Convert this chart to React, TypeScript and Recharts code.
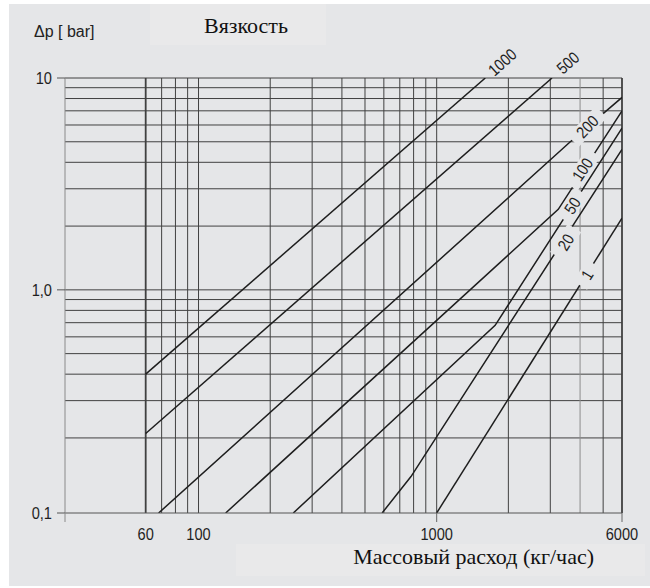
import React from 'react'
import { LineChart, Line, XAxis, YAxis, ReferenceLine, ReferenceDot } from 'recharts'

// viscosity curves, points: [flow kg/h, Δp bar]
const VISCOSITIES = ['1000', '500', '200', '100', '50', '20', '1']

const CURVE_1000 = [[60, 0.4], [1600, 10]]
const CURVE_500 = [[60, 0.21], [3050, 10]]
const CURVE_200 = [[68, 0.1], [3640, 5.0], [6000, 8.1]]
const CURVE_100 = [[130, 0.1], [3240, 2.4], [6000, 7.0]]
const CURVE_50 = [[250, 0.1], [1760, 0.68], [6000, 5.8]]
const CURVE_20 = [[590, 0.1], [780, 0.14], [6000, 4.6]]
const CURVE_1 = [[1000, 0.1], [6000, 2.18]]

const CURVES: Record<string, number[][]> = {
  '1000': CURVE_1000,
  '500': CURVE_500,
  '200': CURVE_200,
  '100': CURVE_100,
  '50': CURVE_50,
  '20': CURVE_20,
  '1': CURVE_1,
}

// where each viscosity tag sits on (or past the end of) its curve
const TAG_AT: Record<string, number[]> = {
  '1000': [1885, 11.9],
  '500': [3550, 11.8],
  '200': [4290, 5.9],
  '100': [4090, 3.7],
  '50': [3710, 2.5],
  '20': [3480, 1.68],
  '1': [4280, 1.18],
}

const X_MIN = 27.5
const X_MAX = 6000
const X_TICKS = [X_MIN, 60, 100, 1000, 6000]
const X_TICK_LABELS = ['', '60', '100', '1000', '6000']
const X_MARKED = [X_MIN, 1000, 6000]

const Y_TICKS = [0.1, 1, 10]
const Y_TICK_LABELS = ['0,1', '1,0', '10']

const GRID_Q = [60, 70, 80, 90, 100, 200, 300, 400, 500, 600, 700, 800, 900, 1000, 2000, 3000, 4000, 5000, 6000]
const GRID_DP = [0.2, 0.3, 0.4, 0.5, 0.6, 0.7, 0.8, 0.9, 1, 2, 3, 4, 5, 6, 7, 8, 9, 10]

// the printed chart stretches its lowest band (0.1–0.2) a bit compared to the other decades
const LOG_02 = Math.log10(0.2)
const BOTTOM_STRETCH = 1.177
const ty = (v: number) => {
  const l = Math.log10(v)
  return l >= LOG_02 ? l : LOG_02 - (LOG_02 - l) * BOTTOM_STRETCH
}

const BG = '#e5e6e8'
const BOX = '#e9e9ea'
const INK = '#1e1e1e'
const GRID = '#404040'
const SANS = '"Liberation Sans", Arial, sans-serif'
const SERIF = '"Liberation Serif", "Times New Roman", serif'
const SQUEEZE = 0.86 // the print uses a condensed grotesque

const TAG_ANGLE: Record<string, number> = {
  '1000': -42,
  '500': -42,
  '200': -46,
  '100': -56,
  '50': -57,
  '20': -58,
  '1': -58,
}

function Narrow({ x, y, anchor = 'middle', size, dy, children }: any) {
  return (
    <text
      transform={`translate(${x},${y}) scale(${SQUEEZE},1)`}
      x={0}
      y={0}
      dy={dy}
      textAnchor={anchor}
      fontSize={size}
      fontFamily={SANS}
      fill="#1f1f1f"
    >
      {children}
    </text>
  )
}

function CurveTag(props: any) {
  const { cx, cy, name } = props
  const cut = TAG_AT[name][1] <= 10
  const w = name.length * 7.6 + 18
  return (
    <g transform={`translate(${cx},${cy}) rotate(${TAG_ANGLE[name]})`}>
      {cut && <rect x={-w / 2} y={-8} width={w} height={16} fill={BG} />}
      <Narrow x={0} y={0} dy="0.36em" size={16.5}>
        {name}
      </Narrow>
    </g>
  )
}

function XTick(props: any) {
  const { x, y, payload } = props
  const i = X_TICKS.indexOf(payload.value)
  return (
    <g>
      {X_MARKED.includes(payload.value) && (
        <line x1={x} x2={x} y1={y} y2={y + 9} stroke={payload.value === X_MIN ? '#8a8a8a' : '#666'} />
      )}
      <Narrow x={x} y={y + 27} size={17}>
        {X_TICK_LABELS[i]}
      </Narrow>
    </g>
  )
}

function YTick(props: any) {
  const { x, y, payload } = props
  const i = Y_TICKS.findIndex((v) => Math.abs(ty(v) - payload.value) < 1e-6)
  return (
    <Narrow x={x} y={y} dy="0.36em" anchor="end" size={17}>
      {i >= 0 ? Y_TICK_LABELS[i] : ''}
    </Narrow>
  )
}

const toPoints = (c: number[][]) => c.map(([q, dp]) => ({ q, t: ty(dp) }))

export default function App() {
  return (
    <div style={{ position: 'absolute', left: 0, top: 0, width: 650, height: 588, background: '#fff' }}>
      <svg width={650} height={588} style={{ position: 'absolute', left: 0, top: 0 }}>
        <rect x={9} y={4} width={641} height={582} fill={BG} />
        <rect x={150} y={4} width={176} height={41} fill={BOX} />
        <rect x={236} y={544} width={409} height={32} fill={BOX} />
        <text x={34} y={37} fontSize={16} fontFamily={SANS} fill="#222">
          Δp [ bar]
        </text>
        <text x={204} y={32.5} fontSize={22} fontFamily={SERIF} fill="#111">
          Вязкость
        </text>
        <text x={594} y={563.5} textAnchor="end" fontSize={22} fontFamily={SERIF} fill="#111">
          Массовый расход (кг/час)
        </text>
      </svg>
      <div style={{ position: 'absolute', left: 0, top: 0 }}>
        <LineChart width={650} height={588} margin={{ top: 78, right: 28, bottom: 45, left: 0 }}>
          <XAxis
            type="number"
            dataKey="q"
            scale="log"
            domain={[X_MIN, X_MAX]}
            allowDataOverflow
            ticks={X_TICKS}
            interval={0}
            height={30}
            tickSize={0}
            tickMargin={0}
            tickLine={false}
            axisLine={{ stroke: '#555' }}
            tick={<XTick />}
          />
          <YAxis
            type="number"
            domain={[ty(0.1), ty(10)]}
            allowDataOverflow
            ticks={Y_TICKS.map(ty)}
            interval={0}
            width={65}
            tickSize={8}
            tickMargin={5}
            tickLine={{ stroke: '#555' }}
            axisLine={{ stroke: '#8a8a8a' }}
            tick={<YTick />}
          />
          {GRID_DP.map((v) => (
            <ReferenceLine key={'h' + v} y={ty(v)} stroke={GRID} strokeWidth={1} zIndex={-100} />
          ))}
          {GRID_Q.map((q) => (
            <ReferenceLine
              key={'v' + q}
              x={q}
              stroke={q === 4000 ? '#8c8c8c' : GRID}
              strokeWidth={q === 60 || q === 6000 ? 1.8 : 1}
              zIndex={-100}
            />
          ))}
          {VISCOSITIES.map((name) => (
            <Line
              key={name}
              data={toPoints(CURVES[name])}
              dataKey="t"
              type="linear"
              stroke={INK}
              strokeWidth={1.5}
              dot={false}
              activeDot={false}
              isAnimationActive={false}
            />
          ))}
          {VISCOSITIES.map((name) => (
            <ReferenceDot
              key={'tag' + name}
              x={TAG_AT[name][0]}
              y={ty(TAG_AT[name][1])}
              r={0}
              ifOverflow="visible"
              zIndex={2000}
              shape={(p: any) => <CurveTag {...p} name={name} />}
            />
          ))}
        </LineChart>
      </div>
    </div>
  )
}
